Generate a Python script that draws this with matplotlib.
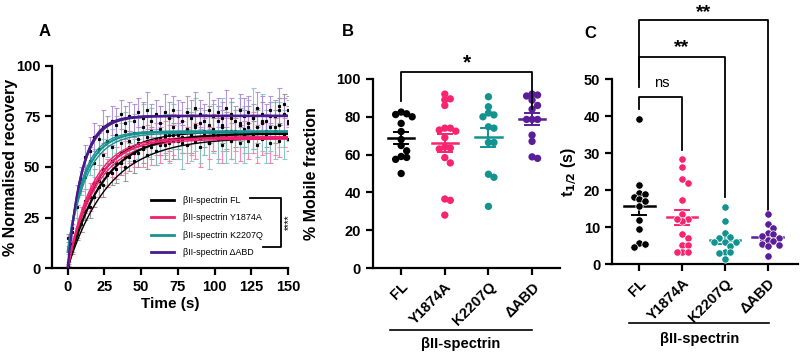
import numpy as np
import matplotlib
matplotlib.use('Agg')
import matplotlib.pyplot as plt

plt.rcParams['font.family'] = ['Liberation Sans', 'DejaVu Sans']

# ---- panel A: FRAP recovery ----
time_s = list(range(0, 151, 3))
names = ['βII-spectrin FL', 'βII-spectrin Y1874A', 'βII-spectrin K2207Q', 'βII-spectrin ΔABD']

fl_mean = [15, 10, 17, 22, 28, 30, 35, 40, 41, 46,
           47, 49, 52, 50, 55, 53, 57, 60, 56, 62,
           58, 64, 61, 66, 63, 67, 64, 69, 66, 70,
           72, 68, 71, 66, 73, 70, 68, 74, 67, 71,
           69, 72, 66, 70, 73, 68, 75, 70, 78, 81, 72]
fl_err = [2, 3, 3, 4, 4, 5, 5, 5, 6, 6,
          6, 7, 6, 7, 7, 6, 7, 8, 7, 8,
          7, 8, 7, 8, 9, 8, 7, 8, 9, 8,
          7, 8, 9, 8, 7, 8, 9, 8, 7, 8,
          9, 8, 7, 8, 9, 8, 7, 8, 6, 5, 8]

y1874a_mean = [2, 12, 20, 24, 33, 35, 42, 43, 49, 47,
               53, 52, 57, 55, 60, 57, 62, 59, 63, 60,
               64, 61, 65, 62, 66, 63, 65, 61, 66, 63,
               60, 65, 62, 67, 64, 61, 66, 63, 68, 62,
               65, 63, 67, 61, 64, 66, 62, 65, 63, 67, 64]
y1874a_err = [1, 4, 5, 6, 6, 7, 7, 8, 8, 7,
              8, 8, 7, 8, 8, 7, 8, 9, 8, 9,
              8, 9, 8, 9, 10, 9, 8, 9, 10, 9,
              10, 9, 8, 9, 10, 9, 8, 9, 10, 9,
              8, 9, 10, 9, 8, 9, 10, 9, 8, 7, 6]

k2207q_mean = [9, 20, 30, 42, 45, 53, 52, 59, 56, 63,
               60, 66, 62, 68, 63, 67, 64, 70, 65, 68,
               63, 69, 66, 64, 70, 66, 62, 68, 65, 71,
               64, 67, 62, 69, 66, 71, 64, 68, 65, 72,
               66, 70, 74, 67, 72, 65, 70, 68, 71, 66, 73]
k2207q_err = [2, 4, 5, 6, 6, 7, 7, 8, 8, 8,
              9, 9, 10, 9, 10, 9, 10, 11, 10, 11,
              12, 11, 10, 12, 11, 12, 13, 11, 12, 13,
              12, 11, 13, 12, 14, 13, 12, 14, 13, 12,
              14, 13, 15, 12, 14, 13, 12, 14, 11, 12, 10]

dabd_mean = [1, 18, 36, 44, 55, 58, 65, 64, 70, 68,
             73, 71, 76, 72, 75, 73, 77, 74, 78, 73,
             76, 72, 77, 74, 78, 75, 73, 77, 74, 79,
             76, 73, 78, 75, 77, 74, 79, 76, 73, 78,
             75, 77, 74, 79, 76, 73, 78, 75, 80, 76, 78]
dabd_err = [1, 4, 5, 6, 6, 7, 7, 7, 8, 7,
            7, 8, 7, 8, 7, 8, 7, 8, 9, 8,
            7, 8, 9, 8, 7, 8, 9, 8, 9, 8,
            7, 8, 9, 8, 7, 8, 9, 8, 7, 8,
            9, 8, 7, 8, 9, 8, 7, 8, 9, 8, 7]

# one-phase association fits: (y0, plateau, k), plus lower/upper band
fit_params = [(0, 66.5, 0.043), (0, 64.5, 0.056), (8, 67.5, 0.085), (0, 75.3, 0.103)]
fit_band = [[(0, 64.5, 0.036), (0, 67.5, 0.050)],
            [(0, 63.8, 0.052), (0, 65.0, 0.060)],
            [(8, 66.8, 0.078), (8, 67.8, 0.092)],
            [(0, 75.0, 0.100), (0, 75.5, 0.106)]]

line_colors = ['#000000', '#f0206e', '#18938f', '#4a1a8c']
bar_colors = ['#8a8a8a', '#ff6fa6', '#7cc4c0', '#a985d6']

# ---- panel B: mobile fraction ----
groups = ['FL', 'Y1874A', 'K2207Q', 'ΔABD']
dot_colors = ['#000000', '#f7246f', '#129390', '#5a1f98']
mobile_fl = [82.5, 81.6, 81.2, 80, 76.5, 72.2, 68, 64.8, 62, 59, 58.5, 57.5, 50]
mobile_y1874a = [92, 89.5, 89, 86, 74, 74, 73, 72.4, 69, 64, 63.5, 63, 58.4, 55.6, 36.5, 35.8, 28]
mobile_k2207q = [90.6, 85.3, 82, 81, 80, 74.7, 74, 66.4, 66.4, 49.6, 48, 32.6]
mobile_dabd = [92, 91.5, 91, 88.8, 86, 84, 78.6, 78.6, 78.6, 70.3, 67, 58.8, 58]

# ---- panel C: half-time ----
thalf_fl = [39.2, 21.4, 19.3, 19.0, 18.3, 17.6, 17.2, 15.8, 12.0, 9.5, 5.9, 5.6, 4.6]
thalf_y1874a = [28.4, 26.2, 23, 22, 17.4, 13.6, 12.3, 11.8, 12.3, 8.1, 7, 5.2, 5.2, 3.4, 3.4, 3.4]
thalf_k2207q = [15.6, 11.7, 8.4, 7.5, 7.2, 6.1, 6.1, 6.1, 5, 3.4, 3.4, 3.2, 1.4]
thalf_dabd = [13.6, 10.8, 9.8, 8.6, 8.2, 7.6, 7.2, 6.6, 6.2, 5.6, 5.2, 5.0, 2.3]


def assoc(t, y0, plateau, k):
    return y0 + (plateau - y0) * (1 - np.exp(-k * t))


def swarm_offsets(vals, px_per_x, px_per_y, diam):
    placed = []
    offs = []
    for v in vals:
        for step in [0, 1, -1, 2, -2, 3, -3, 4, -4]:
            dx = step * diam * 0.95 / px_per_x
            ok = True
            for (px, pv) in placed:
                if np.hypot((px - dx) * px_per_x, (pv - v) * px_per_y) < diam * 0.95:
                    ok = False
                    break
            if ok:
                break
        placed.append((dx, v))
        offs.append(dx)
    return offs


def style_axes(ax):
    for s in ['top', 'right']:
        ax.spines[s].set_visible(False)
    for s in ['left', 'bottom']:
        ax.spines[s].set_linewidth(1.6)
    ax.tick_params(width=1.6, length=5, labelsize=10.5)
    for lab in ax.get_xticklabels() + ax.get_yticklabels():
        lab.set_fontweight('bold')


def dot_panel(ax, datasets, px_per_x, px_per_y, mean_on_top, hw):
    for i, vals in enumerate(datasets):
        offs = swarm_offsets(vals, px_per_x, px_per_y, 5.8)
        z_pts = 2 if mean_on_top else 4
        ax.scatter(np.array(offs) + i, vals, s=28, color=dot_colors[i],
                   edgecolors='white' if not mean_on_top else 'none',
                   linewidths=0.5, zorder=z_pts, clip_on=False)
        m = np.mean(vals)
        sem = np.std(vals, ddof=1) / np.sqrt(len(vals))
        ax.plot([i - hw, i + hw], [m, m], color=dot_colors[i], lw=1.8, zorder=3)
        ax.plot([i, i], [m - sem, m + sem], color=dot_colors[i], lw=1.4, zorder=3)
        for e in (m - sem, m + sem):
            ax.plot([i - 0.16, i + 0.16], [e, e], color=dot_colors[i], lw=1.4, zorder=3)
    ax.set_xticks(range(len(groups)))
    ax.set_xticklabels(groups, rotation=45, ha='right', rotation_mode='anchor')


fig = plt.figure(figsize=(8, 3.52), dpi=100)

# ---------- A ----------
axA = fig.add_axes([0.065, 0.2386, 0.295, 0.574])
t = np.array(time_s)
means = [fl_mean, y1874a_mean, k2207q_mean, dabd_mean]
errs = [fl_err, y1874a_err, k2207q_err, dabd_err]
for i in range(4):
    axA.errorbar(t, means[i], yerr=errs[i], fmt='none', ecolor=bar_colors[i],
                 elinewidth=0.8, capsize=1.8, capthick=0.8, alpha=0.85, zorder=1)
for i in range(4):
    axA.plot(t, means[i], 's', color='black', ms=1.3, zorder=2)
tt = np.linspace(0, 150, 400)
for i in range(4):
    for b in fit_band[i]:
        axA.plot(tt, assoc(tt, *b), color=line_colors[i], lw=1.0, zorder=3)
    axA.plot(tt, assoc(tt, *fit_params[i]), color=line_colors[i], lw=1.6, zorder=4,
             label=names[i])
axA.set_xlim(-10.7, 150)
axA.set_ylim(0, 100)
axA.set_xticks([0, 25, 50, 75, 100, 125, 150])
axA.set_yticks([0, 25, 50, 75, 100])
axA.set_xlabel('Time (s)', fontsize=11, fontweight='bold', labelpad=2)
axA.set_ylabel('% Normalised recovery', fontsize=11.5, fontweight='bold')
axA.yaxis.set_label_coords(-0.145, 0.5)
style_axes(axA)
leg = axA.legend(loc='lower left', bbox_to_anchor=(0.405, 0.035), frameon=False,
                 fontsize=6.4, handlelength=2.6, labelspacing=0.95, handletextpad=1.0,
                 borderaxespad=0)
for h in leg.get_lines():
    h.set_linewidth(2)
axA.plot([124, 145, 145, 133], [34.7, 34.7, 10.4, 10.4], color='black', lw=1.3,
         clip_on=False, zorder=5)
axA.text(150.5, 22.6, '****', rotation=90, ha='center', va='center', fontsize=7)

# ---------- B ----------
axB = fig.add_axes([0.466, 0.2386, 0.234, 0.537])
dot_panel(axB, [mobile_fl, mobile_y1874a, mobile_k2207q, mobile_dabd], 43.7, 1.89, True, 0.3)
axB.set_xlim(-0.65, 3.64)
axB.set_ylim(0, 100)
axB.set_yticks([0, 20, 40, 60, 80, 100])
axB.set_ylabel('% Mobile fraction', fontsize=11.5, fontweight='bold')
axB.yaxis.set_label_coords(-0.29, 0.5)
style_axes(axB)
axB.plot([0, 0, 3, 3], [88.3, 103.9, 103.9, 84], color='black', lw=1.3, clip_on=False)
axB.text(1.5, 108.5, '*', ha='center', va='center', fontsize=15, fontweight='bold')
trB = axB.get_xaxis_transform()
axB.plot([-0.25, 3.0], [-0.328, -0.328], color='black', lw=1.2, transform=trB, clip_on=False)
axB.text(1.37, -0.40, 'βII-spectrin', ha='center', va='center', fontsize=10.5,
         fontweight='bold', transform=trB)

# ---------- C ----------
axC = fig.add_axes([0.765, 0.249, 0.2325, 0.5256])
dot_panel(axC, [thalf_fl, thalf_y1874a, thalf_k2207q, thalf_dabd], 43.0, 3.7, False, 0.36)
axC.set_xlim(-0.63, 3.7)
axC.set_ylim(0, 50)
axC.set_yticks([0, 10, 20, 30, 40, 50])
axC.set_ylabel('t$_{\\mathbf{1/2}}$ (s)', fontsize=11.5, fontweight='bold')
axC.yaxis.set_label_coords(-0.18, 0.5)
style_axes(axC)
axC.plot([0, 0, 1, 1], [42, 45.3, 45.3, 31], color='black', lw=1.3, clip_on=False)
axC.text(0.53, 49, 'ns', ha='center', va='center', fontsize=10.5)
axC.plot([0, 0, 2, 2], [48, 56, 56, 18.3], color='black', lw=1.3, clip_on=False)
axC.text(1.0, 58.5, '**', ha='center', va='center', fontsize=14, fontweight='bold')
axC.plot([0, 0, 3, 3], [50, 66, 66, 14], color='black', lw=1.3, clip_on=False)
axC.text(1.5, 68.0, '**', ha='center', va='center', fontsize=14, fontweight='bold')
trC = axC.get_xaxis_transform()
axC.plot([-0.23, 3.02], [-0.317, -0.317], color='black', lw=1.2, transform=trC, clip_on=False)
axC.text(1.4, -0.405, 'βII-spectrin', ha='center', va='center', fontsize=10.5,
         fontweight='bold', transform=trC)

fig.text(45 / 800, 1 - 32 / 352, 'A', fontsize=12, fontweight='bold', ha='center', va='center')
fig.text(348 / 800, 1 - 31 / 352, 'B', fontsize=12, fontweight='bold', ha='center', va='center')
fig.text(590 / 800, 1 - 33 / 352, 'C', fontsize=12, fontweight='bold', ha='center', va='center')

fig.savefig('out.png', dpi=100)
